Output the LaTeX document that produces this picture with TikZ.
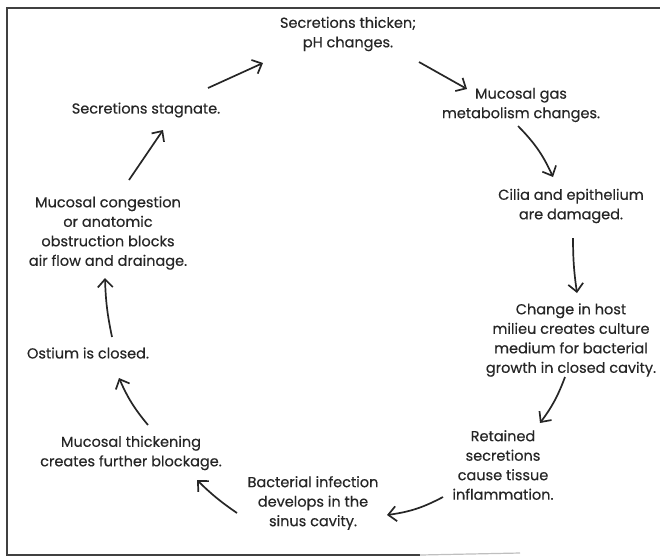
\documentclass[tikz,border=0pt]{standalone}
\usepackage{fontspec}
\setmainfont{Poppins}[FakeBold=0.4]
\usetikzlibrary{arrows.meta}

\begin{document}
\begin{tikzpicture}[x=1pt, y=-1pt,
    step text/.style={align=center, font=\fontsize{14.5}{19.5}\selectfont, text=black!85},
    cyc/.style={line width=1.7pt, black!85, -{Straight Barb[length=8pt,width=15pt]}}]
        \useasboundingbox (0,0) rectangle (660,558);
        \draw[line width=1.8pt, black!75] (660,8) -- (7,8) -- (7,555) -- (420,555);
        \draw[line width=1.2pt, black!25] (420,555) -- (520,553);
        \node[step text] (thick) at (348,34) {Secretions thicken;\\pH changes.};
        \node[step text] (gas) at (521,105) {Mucosal gas\\metabolism changes.};
        \node[step text] (cilia) at (571,206) {Cilia and epithelium\\are damaged.};
        \node[step text] (host) at (571,340) {Change in host\\milieu creates culture\\medium for bacterial\\growth in closed cavity.};
        \node[step text] (ret) at (503,465) {Retained\\secretions\\cause tissue\\inflammation.};
        \node[step text] (inf) at (313,503) {Bacterial infection\\develops in the\\sinus cavity.};
        \node[step text] (mth) at (131,453) {Mucosal thickening\\creates further blockage.};
        \node[step text] (ost) at (88,353) {Ostium is closed.};
        \node[step text] (cong) at (108,233) {Mucosal congestion\\or anatomic\\obstruction blocks\\air flow and drainage.};
        \node[step text] (stag) at (146,110) {Secretions stagnate.};
        \draw[cyc] ([shift={(62,-22)}]stag.center) -- ([shift={(-85,29)}]thick.center);
        \draw[cyc] ([shift={(71,28)}]thick.center) -- ([shift={(-54,-16)}]gas.center);
        \draw[cyc] ([shift={(-3,21)}]gas.center) to[bend left=10] ([shift={(-18,-29)}]cilia.center);
        \draw[cyc] ([shift={(2,32)}]cilia.center) to[bend right=4] ([shift={(6,-47)}]host.center);
        \draw[cyc] ([shift={(-6,37)}]host.center) to[bend left=8] ([shift={(37,-42)}]ret.center);
        \draw[cyc] ([shift={(-60,32)}]ret.center) to[bend left=10] ([shift={(74,12)}]inf.center);
        \draw[cyc] ([shift={(-76,10)}]inf.center) to[bend left=5] ([shift={(66,27)}]mth.center);
        \draw[cyc] ([shift={(17,-28)}]mth.center) to[bend left=8] ([shift={(31,25)}]ost.center);
        \draw[cyc] ([shift={(24,-16)}]ost.center) to[bend left=5] ([shift={(-3,45)}]cong.center);
        \draw[cyc] ([shift={(21,-53)}]cong.center) -- ([shift={(17,20)}]stag.center);
\end{tikzpicture}
\end{document}
